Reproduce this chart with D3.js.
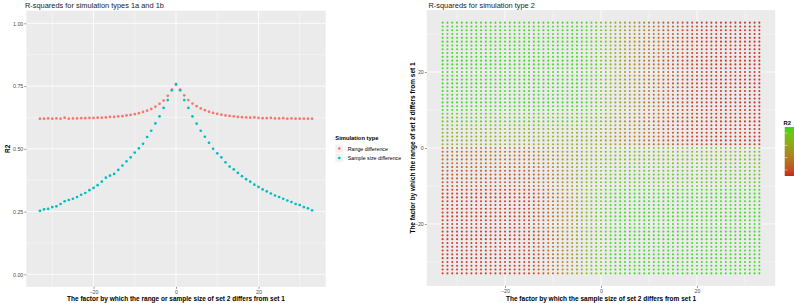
<!DOCTYPE html>
<html>
<head>
<meta charset="utf-8">
<script src="https://cdn.jsdelivr.net/npm/d3@7"></script>
<style>
  body { margin: 0; background: #fff; }
  svg { display: block; font-family: "Liberation Sans", Arial, sans-serif; }
</style>
</head>
<body>
<svg id="chart" width="794" height="303"></svg>
<script>
// factor by which set 2 differs from set 1 (both plots use the same steps)
const factors = d3.range(-33, 34);

// simulation types 1a and 1b, R2 per factor
const rangeDiff = [
  0.620, 0.620, 0.621, 0.620, 0.621, 0.620, 0.624, 0.620, 0.621, 0.621,
  0.622, 0.622, 0.623, 0.623, 0.624, 0.624, 0.625, 0.627, 0.627, 0.629,
  0.630, 0.633, 0.635, 0.638, 0.642, 0.647, 0.652, 0.659, 0.668, 0.679,
  0.692, 0.711, 0.736, 0.755, 0.736, 0.713, 0.694, 0.680, 0.670, 0.661,
  0.654, 0.648, 0.643, 0.639, 0.636, 0.633, 0.631, 0.629, 0.627, 0.626,
  0.625, 0.624, 0.625, 0.623, 0.622, 0.622, 0.623, 0.621, 0.621, 0.622,
  0.620, 0.621, 0.620, 0.620, 0.620, 0.620, 0.620
];
const sampleDiff = [
  0.253, 0.259, 0.261, 0.268, 0.271, 0.280, 0.291, 0.296, 0.301, 0.308,
  0.317, 0.324, 0.335, 0.344, 0.355, 0.369, 0.385, 0.393, 0.400, 0.416,
  0.433, 0.450, 0.466, 0.485, 0.502, 0.520, 0.547, 0.572, 0.601, 0.629,
  0.663, 0.694, 0.733, 0.758, 0.733, 0.694, 0.663, 0.629, 0.600, 0.572,
  0.548, 0.524, 0.500, 0.482, 0.466, 0.446, 0.429, 0.418, 0.404, 0.391,
  0.379, 0.369, 0.357, 0.348, 0.338, 0.330, 0.322, 0.314, 0.308, 0.301,
  0.294, 0.288, 0.280, 0.276, 0.268, 0.263, 0.255
];
const seriesNames = ['Range difference', 'Sample size difference'];
const seriesColors = ['#F8766D', '#00BFC4'];

// simulation type 2: R2 per sample size factor, one list per band of range factors
const r2TopFar = [
  0.90, 0.90, 0.90, 0.90, 0.90, 0.90, 0.90, 0.90, 0.90, 0.90,
  0.90, 0.90, 0.90, 0.90, 0.90, 0.90, 0.90, 0.90, 0.90, 0.90,
  0.90, 0.90, 0.90, 0.90, 0.90, 0.90, 0.90, 0.90, 0.89, 0.89,
  0.88, 0.86, 0.83, 0.79, 0.74, 0.69, 0.64, 0.59, 0.54, 0.49,
  0.45, 0.41, 0.37, 0.33, 0.30, 0.27, 0.24, 0.22, 0.20, 0.18,
  0.16, 0.15, 0.14, 0.13, 0.13, 0.12, 0.12, 0.12, 0.11, 0.11,
  0.11, 0.11, 0.10, 0.10, 0.10, 0.10, 0.10
];
const r2TopMid = [
  0.79, 0.79, 0.79, 0.79, 0.79, 0.79, 0.79, 0.79, 0.79, 0.79,
  0.79, 0.79, 0.79, 0.79, 0.79, 0.79, 0.79, 0.79, 0.79, 0.79,
  0.79, 0.79, 0.79, 0.79, 0.79, 0.79, 0.79, 0.79, 0.79, 0.79,
  0.78, 0.76, 0.74, 0.71, 0.67, 0.63, 0.59, 0.55, 0.51, 0.47,
  0.43, 0.39, 0.35, 0.32, 0.29, 0.26, 0.23, 0.21, 0.19, 0.17,
  0.16, 0.15, 0.14, 0.13, 0.13, 0.12, 0.12, 0.12, 0.12, 0.11,
  0.11, 0.11, 0.11, 0.11, 0.10, 0.10, 0.10
];
const r2TopNear = [
  0.66, 0.66, 0.66, 0.66, 0.66, 0.66, 0.66, 0.66, 0.66, 0.66,
  0.66, 0.66, 0.66, 0.66, 0.66, 0.66, 0.66, 0.66, 0.66, 0.66,
  0.66, 0.66, 0.66, 0.66, 0.66, 0.66, 0.66, 0.66, 0.66, 0.66,
  0.65, 0.64, 0.62, 0.60, 0.57, 0.54, 0.51, 0.48, 0.45, 0.42,
  0.39, 0.36, 0.33, 0.30, 0.27, 0.25, 0.23, 0.21, 0.19, 0.17,
  0.16, 0.15, 0.14, 0.13, 0.13, 0.12, 0.12, 0.12, 0.12, 0.11,
  0.11, 0.11, 0.11, 0.11, 0.10, 0.10, 0.10
];
const r2BotNear = [
  0.30, 0.30, 0.30, 0.30, 0.30, 0.30, 0.30, 0.30, 0.30, 0.30,
  0.30, 0.30, 0.30, 0.30, 0.30, 0.30, 0.31, 0.32, 0.33, 0.35,
  0.37, 0.39, 0.41, 0.44, 0.47, 0.50, 0.53, 0.56, 0.59, 0.62,
  0.65, 0.67, 0.69, 0.71, 0.72, 0.73, 0.74, 0.74, 0.74, 0.74,
  0.74, 0.74, 0.74, 0.74, 0.74, 0.74, 0.74, 0.74, 0.74, 0.74,
  0.74, 0.74, 0.74, 0.74, 0.74, 0.74, 0.74, 0.74, 0.74, 0.74,
  0.74, 0.74, 0.74, 0.74, 0.74, 0.74, 0.74
];
const r2BotMid = [
  0.20, 0.20, 0.20, 0.20, 0.20, 0.20, 0.20, 0.20, 0.20, 0.20,
  0.20, 0.20, 0.20, 0.20, 0.20, 0.20, 0.21, 0.22, 0.24, 0.26,
  0.28, 0.31, 0.34, 0.38, 0.42, 0.46, 0.50, 0.55, 0.60, 0.64,
  0.68, 0.71, 0.74, 0.77, 0.79, 0.81, 0.83, 0.83, 0.83, 0.83,
  0.83, 0.83, 0.83, 0.83, 0.83, 0.83, 0.83, 0.83, 0.83, 0.83,
  0.83, 0.83, 0.83, 0.83, 0.83, 0.83, 0.83, 0.83, 0.83, 0.83,
  0.83, 0.83, 0.83, 0.83, 0.83, 0.83, 0.83
];
const r2BotFar = [
  0.12, 0.12, 0.12, 0.12, 0.12, 0.12, 0.12, 0.12, 0.12, 0.12,
  0.12, 0.12, 0.12, 0.12, 0.12, 0.12, 0.13, 0.14, 0.15, 0.17,
  0.19, 0.22, 0.26, 0.30, 0.35, 0.40, 0.46, 0.52, 0.58, 0.64,
  0.69, 0.74, 0.78, 0.82, 0.85, 0.87, 0.90, 0.90, 0.90, 0.90,
  0.90, 0.90, 0.90, 0.90, 0.90, 0.90, 0.90, 0.90, 0.90, 0.90,
  0.90, 0.90, 0.90, 0.90, 0.90, 0.90, 0.90, 0.90, 0.90, 0.90,
  0.90, 0.90, 0.90, 0.90, 0.90, 0.90, 0.90
];
// which range factors (rows) each list covers
const bands = [
  { from: 10, to: 33, values: r2TopFar },
  { from: 6, to: 9, values: r2TopMid },
  { from: 1, to: 5, values: r2TopNear },
  { from: -4, to: 0, values: r2BotNear },
  { from: -10, to: -5, values: r2BotMid },
  { from: -33, to: -11, values: r2BotFar }
];

const svg = d3.select('#chart');
svg.append('rect').attr('width', 794).attr('height', 303).attr('fill', '#fff');

// panel background + grid lines, ggplot style
function drawPanel(x, y, xMajor, xMinor, yMajor, yMinor) {
  const g = svg.append('g');
  const [x0, x1] = x.range(), [y0, y1] = y.range();
  g.append('rect')
    .attr('x', x0).attr('y', y1)
    .attr('width', x1 - x0).attr('height', y0 - y1)
    .attr('fill', '#EBEBEB');
  g.selectAll('.vmin').data(xMinor).enter().append('line')
    .attr('x1', d => x(d)).attr('x2', d => x(d)).attr('y1', y0).attr('y2', y1)
    .attr('stroke', '#fff').attr('stroke-width', 0.4);
  g.selectAll('.hmin').data(yMinor).enter().append('line')
    .attr('y1', d => y(d)).attr('y2', d => y(d)).attr('x1', x0).attr('x2', x1)
    .attr('stroke', '#fff').attr('stroke-width', 0.4);
  g.selectAll('.vmaj').data(xMajor).enter().append('line')
    .attr('x1', d => x(d)).attr('x2', d => x(d)).attr('y1', y0).attr('y2', y1)
    .attr('stroke', '#fff').attr('stroke-width', 0.8);
  g.selectAll('.hmaj').data(yMajor).enter().append('line')
    .attr('y1', d => y(d)).attr('y2', d => y(d)).attr('x1', x0).attr('x2', x1)
    .attr('stroke', '#fff').attr('stroke-width', 0.8);
}

function styleAxis(g) {
  g.attr('font-size', null).attr('font-family', null);
  g.select('.domain').remove();
  g.selectAll('.tick line').attr('stroke', '#333').attr('stroke-width', 0.5);
  g.selectAll('.tick text').attr('fill', '#4D4D4D').style('font-size', '5.3px');
}

// ---------- left plot ----------
const xL = d3.scaleLinear().domain([-36.3, 36.3]).range([26.3, 325.7]);
const yL = d3.scaleLinear().domain([-0.05, 1.05]).range([286.85, 10.75]);

drawPanel(xL, yL, [-20, 0, 20], [-30, -10, 10, 30],
  [0, 0.25, 0.5, 0.75, 1], [0.125, 0.375, 0.625, 0.875]);

svg.append('g').attr('transform', `translate(${xL.range()[0]},0)`)
  .call(d3.axisLeft(yL).tickValues([0, 0.25, 0.5, 0.75, 1]).tickFormat(d3.format('.2f')).tickSize(2).tickPadding(1))
  .call(styleAxis);
svg.append('g').attr('transform', `translate(0,${yL.range()[0]})`)
  .call(d3.axisBottom(xL).tickValues([-20, 0, 20]).tickSize(2).tickPadding(1))
  .call(styleAxis);

[rangeDiff, sampleDiff].forEach((vals, k) => {
  svg.append('g').selectAll('circle')
    .data(vals).enter().append('circle')
    .attr('cx', (d, i) => xL(factors[i]))
    .attr('cy', d => yL(d))
    .attr('r', 1.35)
    .attr('fill', seriesColors[k]);
});

svg.append('text').attr('x', 25).attr('y', 7.5)
  .style('font-size', '7.4px').attr('fill', '#222')
  .text('R-squareds for simulation types 1a and 1b');
svg.append('text').attr('x', d3.mean(xL.range())).attr('y', 300.5)
  .attr('text-anchor', 'middle').style('font-size', '6.5px').style('font-weight', 'bold')
  .text('The factor by which the range or sample size of set 2 differs from set 1');
svg.append('text')
  .attr('transform', `translate(10,${d3.mean(yL.range())}) rotate(-90)`)
  .attr('text-anchor', 'middle').style('font-size', '6.5px').style('font-weight', 'bold')
  .text('R2');

// legend
const leg = svg.append('g').attr('transform', 'translate(335.3,133)');
leg.append('text').attr('x', 0).attr('y', 6.5)
  .style('font-size', '5.8px').style('font-weight', 'bold').text('Simulation type');
seriesNames.forEach((name, k) => {
  const row = leg.append('g').attr('transform', `translate(0,${11.5 + k * 9.5})`);
  row.append('rect').attr('width', 8).attr('height', 8).attr('fill', '#F2F2F2');
  row.append('circle').attr('cx', 4).attr('cy', 4).attr('r', 1.35).attr('fill', seriesColors[k]);
  row.append('text').attr('x', 12.4).attr('y', 6).style('font-size', '5.3px').text(name);
});

// ---------- right plot ----------
const xR = d3.scaleLinear().domain([-36.3, 36.3]).range([426.8, 775.2]);
const yR = d3.scaleLinear().domain([-36.3, 36.3]).range([285.9, 10.1]);

drawPanel(xR, yR, [-20, 0, 20], [-30, -10, 10, 30], [-20, 0, 20], [-30, -10, 10, 30]);

svg.append('g').attr('transform', `translate(${xR.range()[0]},0)`)
  .call(d3.axisLeft(yR).tickValues([-20, 0, 20]).tickSize(2).tickPadding(1))
  .call(styleAxis);
svg.append('g').attr('transform', `translate(0,${yR.range()[0]})`)
  .call(d3.axisBottom(xR).tickValues([-20, 0, 20]).tickSize(2).tickPadding(1))
  .call(styleAxis);

const cells = [];
bands.forEach(b => {
  for (let r = b.from; r <= b.to; r++) {
    factors.forEach((s, i) => cells.push({ s: s, r: r, v: b.values[i] }));
  }
});

const color = d3.scaleLinear().domain([0.1, 0.9])
  .range(['#c8261e', '#38d818']).interpolate(d3.interpolateLab);

svg.append('g').selectAll('circle')
  .data(cells).enter().append('circle')
  .attr('cx', d => xR(d.s))
  .attr('cy', d => yR(d.r))
  .attr('r', 1.05)
  .attr('fill', d => color(d.v))
  .attr('fill-opacity', 0.9);

svg.append('text').attr('x', 428.5).attr('y', 7.5)
  .style('font-size', '7.4px').attr('fill', '#222')
  .text('R-squareds for simulation type 2');
svg.append('text').attr('x', d3.mean(xR.range())).attr('y', 300.5)
  .attr('text-anchor', 'middle').style('font-size', '6.5px').style('font-weight', 'bold')
  .text('The factor by which the sample size of set 2 differs from set 1');
svg.append('text')
  .attr('transform', `translate(414.5,${d3.mean(yR.range())}) rotate(-90)`)
  .attr('text-anchor', 'middle').style('font-size', '6.5px').style('font-weight', 'bold')
  .text('The factor by which the range of set 2 differs from set 1');

// colour bar legend (cut off by the right edge, as in the original)
const defs = svg.append('defs');
const grad = defs.append('linearGradient').attr('id', 'r2grad')
  .attr('x1', 0).attr('y1', 1).attr('x2', 0).attr('y2', 0);
d3.range(0, 1.01, 0.1).forEach(t => {
  grad.append('stop').attr('offset', t).attr('stop-color', color(0.1 + t * 0.8));
});
const barY = d3.scaleLinear().domain([0.1, 0.9]).range([176, 127]);
svg.append('text').attr('x', 783.5).attr('y', 125)
  .style('font-size', '5.8px').style('font-weight', 'bold').text('R2');
svg.append('rect').attr('x', 784.7).attr('y', 127).attr('width', 14).attr('height', 49)
  .attr('fill', 'url(#r2grad)');
svg.append('g').selectAll('line')
  .data([0.2, 0.4, 0.6, 0.8]).enter().append('line')
  .attr('x1', 784.7).attr('x2', 787.5)
  .attr('y1', d => barY(d)).attr('y2', d => barY(d))
  .attr('stroke', '#fff').attr('stroke-width', 0.5);
</script>
</body>
</html>
